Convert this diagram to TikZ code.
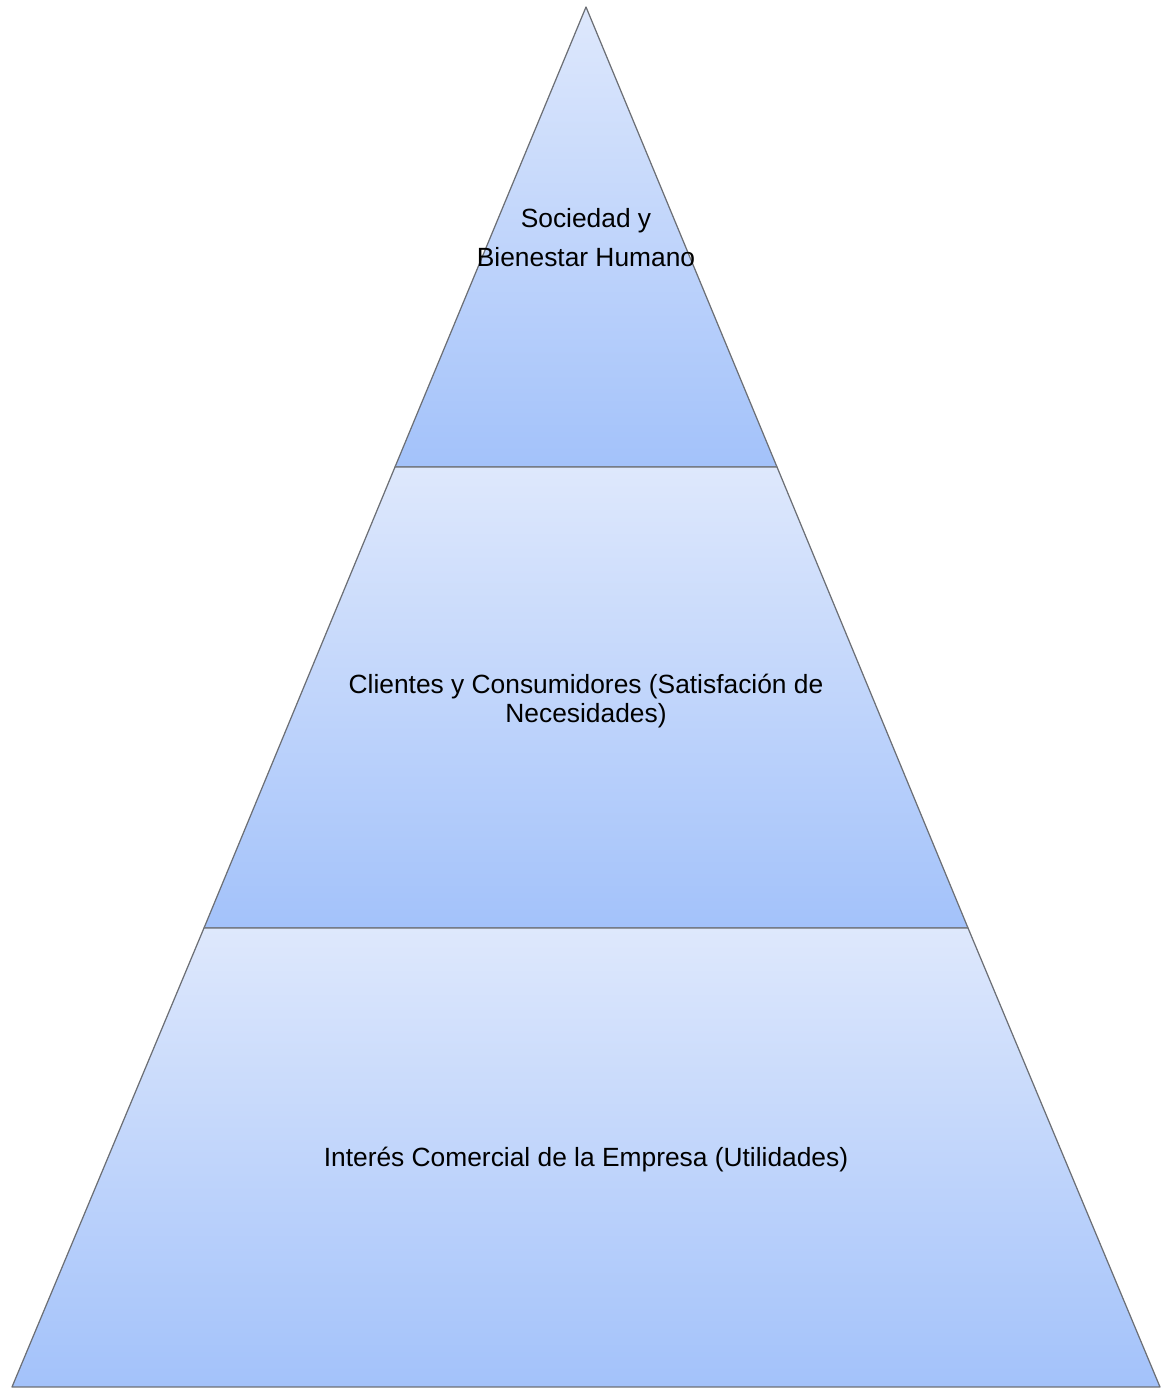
\documentclass[tikz,border=0pt]{standalone}
\usepackage{fontspec}
\setmainfont{Liberation Sans}
\usetikzlibrary{positioning}
\definecolor{pyrtop}{HTML}{DEE8FC}
\definecolor{pyrbot}{HTML}{A3C2FA}
\definecolor{pyredge}{HTML}{6C6F75}

\begin{document}
\begin{tikzpicture}[x=0.02cm, y=0.02cm,
  tier/.style={top color=pyrtop, bottom color=pyrbot, draw=pyredge, line width=0.7pt, line join=round},
  tiertext/.style={font=\fontsize{15}{17}\selectfont, align=center, inner sep=0pt}
]
  \useasboundingbox (0,0) rectangle (1164,1389);
  % corners of the layers
  \coordinate (apex) at (586,1382);
  \coordinate (l1) at (395,922);
  \coordinate (r1) at (777,922);
  \coordinate (l2) at (204,461);
  \coordinate (r2) at (968,461);
  \coordinate (l3) at (12,2);
  \coordinate (r3) at (1160,2);

  % layers, top to bottom
  \shadedraw[tier] (apex) -- (r1) -- (l1) -- cycle;
  \shadedraw[tier] (l1) -- (r1) -- (r2) -- (l2) -- cycle;
  \shadedraw[tier] (l2) -- (r2) -- (r3) -- (l3) -- cycle;

  % texts
  \node[tiertext, font=\fontsize{15}{22.1}\selectfont] (society) at (586,1151) {Sociedad y\\Bienestar Humano};
  \node[tiertext] (clients) at (586,688) {Clientes y Consumidores (Satisfación de\\Necesidades)};
  \node[tiertext] (company) at (586,229) {Interés Comercial de la Empresa (Utilidades)};
\end{tikzpicture}
\end{document}
